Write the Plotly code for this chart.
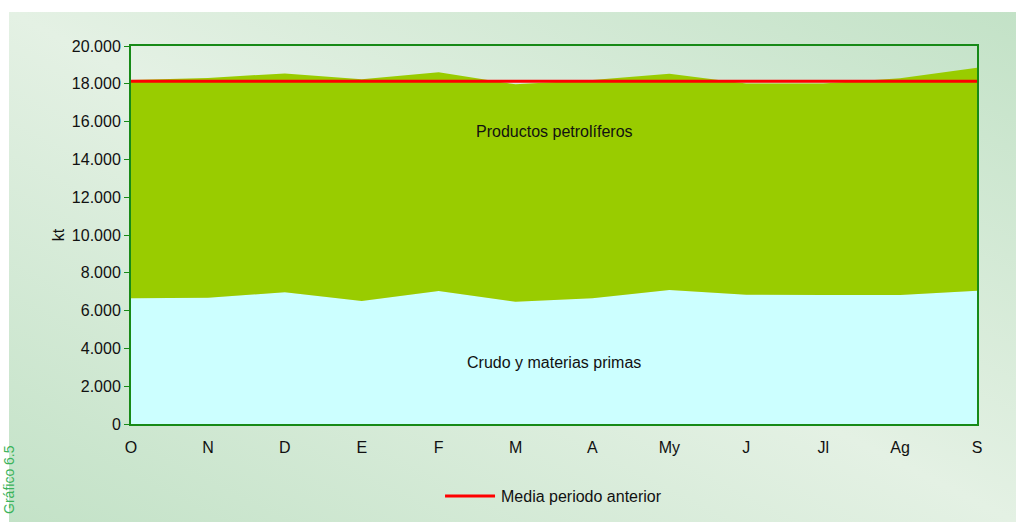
import base64
import plotly.graph_objects as go

# Monthly values (kt)
meses = ["O", "N", "D", "E", "F", "M", "A", "My", "J", "Jl", "Ag", "S"]
crudo = [6660, 6680, 6970, 6510, 7040, 6470, 6650, 7090, 6840, 6830, 6830, 7050]
productos = [11540, 11630, 11580, 11730, 11570, 11500, 11550, 11440, 11180, 11190, 11460, 11800]
media_anterior = [18130] * 12

# Soft green diagonal gradient for the page background
svg = (
    '<svg xmlns="http://www.w3.org/2000/svg" width="1007" height="510" '
    'preserveAspectRatio="none" viewBox="0 0 1007 510">'
    '<defs><linearGradient id="g" x1="0" y1="1" x2="1" y2="0">'
    '<stop offset="0" stop-color="#c3e2c7"/>'
    '<stop offset="0.5" stop-color="#e4f1e4"/>'
    '<stop offset="1" stop-color="#c3e2c7"/>'
    '</linearGradient></defs>'
    '<rect width="1007" height="510" fill="url(#g)"/></svg>'
)
bg_src = "data:image/svg+xml;base64," + base64.b64encode(svg.encode()).decode()

FONT = "Liberation Sans, Arial, sans-serif"
GREEN = "#178a17"
FS = 16

fig = go.Figure()
fig.add_trace(go.Scatter(
    x=meses, y=crudo, stackgroup="one", mode="none",
    fillcolor="#ccffff", name="Crudo y materias primas", showlegend=False,
    hoverinfo="skip",
))
fig.add_trace(go.Scatter(
    x=meses, y=productos, stackgroup="one", mode="none",
    fillcolor="#99cc00", name="Productos petrolíferos", showlegend=False,
    hoverinfo="skip",
))
fig.add_trace(go.Scatter(
    x=meses, y=media_anterior, mode="lines",
    line=dict(color="#ff0000", width=3), name="Media periodo anterior",
    showlegend=False,
))

# Legend key for the reference line, drawn below the plot
legend_y = -0.1905
fig.add_shape(type="line", xref="paper", yref="paper",
              x0=0.3712, x1=0.4303, y0=legend_y, y1=legend_y,
              line=dict(color="#ff0000", width=3))

fig.update_layout(
    width=1016, height=522,
    margin=dict(l=131, r=39, t=46, b=98),
    paper_bgcolor="white",
    plot_bgcolor="white",
    separators=",.",
    font=dict(family=FONT, size=FS, color="#111111"),
    showlegend=False,
    images=[dict(
        source=bg_src, xref="paper", yref="paper",
        x=-0.1442, y=1.0899, sizex=1.1903, sizey=1.3492,
        xanchor="left", yanchor="top", sizing="stretch", layer="below",
    )],
    annotations=[
        dict(text="Productos petrolíferos", x=0.5, y=15500, xref="paper", yref="y",
             showarrow=False, font=dict(size=FS, family=FONT)),
        dict(text="Crudo y materias primas", x=0.5, y=3270, xref="paper", yref="y",
             showarrow=False, font=dict(size=FS, family=FONT)),
        dict(text="Media periodo anterior", x=0.435, y=legend_y, xref="paper", yref="paper",
             xanchor="left", yanchor="middle", showarrow=False,
             font=dict(size=FS, family=FONT)),
        dict(text="Gráfico 6.5", x=-0.1442, y=-0.148, xref="paper", yref="paper",
             xanchor="center", yanchor="middle", textangle=-90, showarrow=False,
             font=dict(size=14, family=FONT, color="#3cb35a")),
    ],
)

fig.update_xaxes(
    type="category", range=[0, 11], showgrid=False,
    showline=True, linecolor=GREEN, linewidth=2, mirror=True,
    ticks="", tickfont=dict(size=FS, family=FONT), ticklabelstandoff=8,
)
fig.update_yaxes(
    range=[0, 20000], dtick=2000, tickformat=",d", showgrid=False,
    showline=True, linecolor=GREEN, linewidth=2, mirror=True,
    ticks="outside", ticklen=5, tickcolor=GREEN, tickwidth=1,
    tickfont=dict(size=FS, family=FONT),
    title=dict(text="kt", font=dict(size=FS, family=FONT), standoff=3),
)

fig.write_html("out.html")
